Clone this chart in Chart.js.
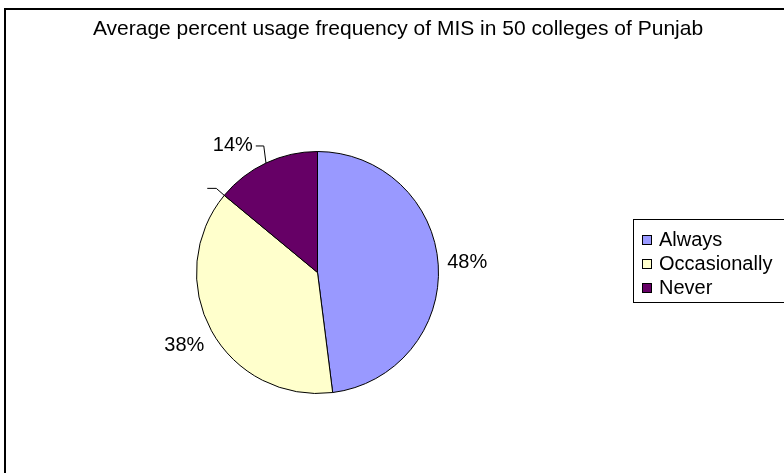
<!DOCTYPE html>
<html>
<head>
<meta charset="utf-8">
<script src="https://cdn.jsdelivr.net/npm/chart.js@4.4.0/dist/chart.umd.min.js"></script>
<style>
  html, body { margin: 0; padding: 0; background: #fff; }
  canvas { display: block; }
</style>
</head>
<body>
<canvas id="chart" width="784" height="473"></canvas>
<script>
// Chart data
const categories = ["Always", "Occasionally", "Never"];
const percentValues = [48, 38, 14];
const sliceColors = ["#9999ff", "#ffffcc", "#660066"];
const chartTitle = "Average percent usage frequency of MIS in 50 colleges of Punjab";

const FONT = '"Liberation Sans", Arial, sans-serif';

// label nudges (Excel "best fit" moved the small slice's label)
const labelNudge = [[-2, 0], [0, 0], [-20, 11]];

// Draws the frame, title, data labels and the boxed legend like the Excel original
const excelLook = {
  id: "excelLook",
  beforeDraw: function (chart) {
    const ctx = chart.ctx;
    ctx.save();
    ctx.fillStyle = "#fff";
    ctx.fillRect(0, 0, chart.width, chart.height);
    ctx.strokeStyle = "#000";
    ctx.lineWidth = 2;
    ctx.strokeRect(5, 9, chart.width + 10, chart.height + 10);
    ctx.fillStyle = "#000";
    ctx.font = "21px " + FONT;
    ctx.textAlign = "center";
    ctx.textBaseline = "middle";
    ctx.fillText(chartTitle, 398, 29);
    ctx.restore();
  },
  afterDraw: function (chart) {
    const ctx = chart.ctx;
    const arcs = chart.getDatasetMeta(0).data;
    ctx.save();
    ctx.font = "20px " + FONT;
    ctx.fillStyle = "#000";
    ctx.strokeStyle = "#000";
    ctx.lineWidth = 1;
    ctx.textAlign = "center";
    ctx.textBaseline = "middle";

    arcs.forEach(function (arc, i) {
      const p = arc.getProps(["x", "y", "startAngle", "endAngle", "outerRadius"], true);
      const mid = (p.startAngle + p.endAngle) / 2;
      const r = p.outerRadius;
      const text = percentValues[i] + "%";
      const lx = p.x + (r + 31) * Math.cos(mid) + labelNudge[i][0];
      const ly = p.y + (r + 31) * Math.sin(mid) + labelNudge[i][1];
      ctx.fillText(text, lx, ly);

      // leader line for the small slice
      if (percentValues[i] < 20) {
        const right = lx + ctx.measureText(text).width / 2;
        ctx.beginPath();
        ctx.moveTo(p.x + r * Math.cos(mid), p.y + r * Math.sin(mid));
        ctx.lineTo(right + 11, ly);
        ctx.lineTo(right + 3, ly);
        ctx.stroke();

        // empty leader at the start of this slice (as in the original)
        const sx = p.x + r * Math.cos(p.startAngle);
        const sy = p.y + r * Math.sin(p.startAngle);
        ctx.beginPath();
        ctx.moveTo(sx, sy);
        ctx.lineTo(sx - 8, sy - 7);
        ctx.lineTo(sx - 17, sy - 7);
        ctx.stroke();
      }
    });

    // legend box
    ctx.strokeRect(633.5, 219.5, 200, 83);
    ctx.textAlign = "left";
    categories.forEach(function (name, i) {
      const y = 240 + i * 24;
      ctx.fillStyle = sliceColors[i];
      ctx.fillRect(642.5, y - 4.5, 9, 9);
      ctx.strokeRect(642.5, y - 4.5, 9, 9);
      ctx.fillStyle = "#000";
      ctx.fillText(name, 659, y);
    });
    ctx.restore();
  }
};

const chart = new Chart(document.getElementById("chart").getContext("2d"), {
  type: "pie",
  data: {
    labels: categories,
    datasets: [
      {
        data: percentValues,
        backgroundColor: sliceColors,
        borderColor: "#000",
        borderWidth: 1,
      },
    ],
  },
  options: {
    responsive: false,
    animation: false,
    devicePixelRatio: 1,
    layout: {
      padding: { left: 196, right: 345, top: 151, bottom: 79 },
    },
    plugins: {
      legend: { display: false },
      title: { display: false },
      tooltip: { enabled: false },
    },
  },
  plugins: [excelLook],
});
</script>
</body>
</html>
